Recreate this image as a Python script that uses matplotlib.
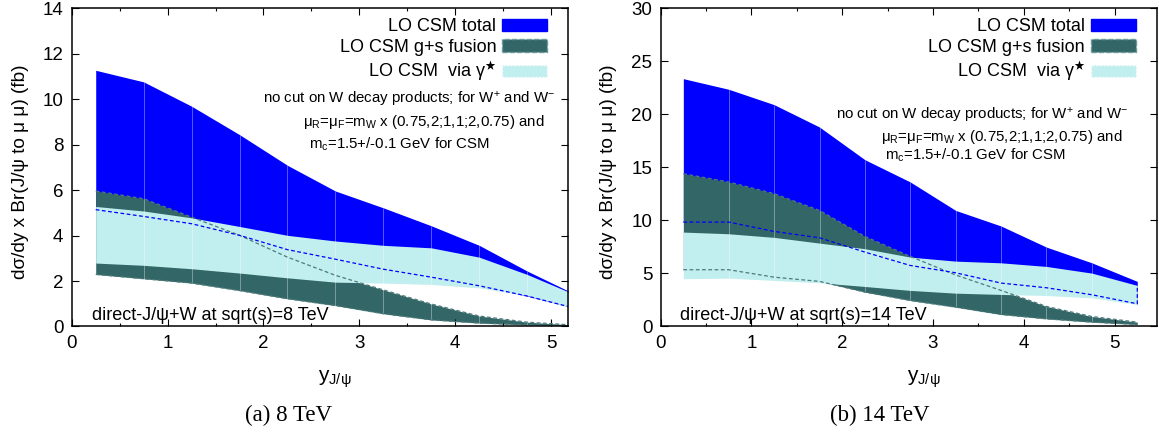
import matplotlib
matplotlib.use('Agg')
import matplotlib.pyplot as plt
from matplotlib.patches import Patch
import numpy as np

plt.rcParams['font.family'] = ['Liberation Sans', 'DejaVu Sans']
plt.rcParams['mathtext.fontset'] = 'custom'
plt.rcParams['mathtext.rm'] = 'Liberation Sans'
plt.rcParams['mathtext.it'] = 'Liberation Sans:italic'
plt.rcParams['mathtext.sf'] = 'Liberation Sans'
plt.rcParams['mathtext.fallback'] = 'stixsans'

# rapidity bins (bin centres)
y_bins = [0.25, 0.75, 1.25, 1.75, 2.25, 2.75, 3.25, 3.75, 4.25, 4.75, 5.25]

# 8 TeV: bands (lower / upper)
tot_lo_8 = [5.14, 4.84, 4.52, 4.01, 3.38, 2.96, 2.52, 2.17, 1.79, 1.34, 0.80]
tot_hi_8 = [11.27, 10.76, 9.69, 8.44, 7.09, 5.96, 5.22, 4.43, 3.57, 2.44, 1.42]
gs_lo_8 = [2.29, 2.10, 1.91, 1.58, 1.22, 0.92, 0.56, 0.29, 0.15, 0.07, 0.03]
gs_hi_8 = [5.96, 5.62, 4.81, 4.01, 3.05, 2.25, 1.61, 0.99, 0.46, 0.19, 0.06]
ga_lo_8 = [2.79, 2.69, 2.54, 2.35, 2.14, 1.95, 1.91, 1.85, 1.70, 1.36, 0.78]
ga_hi_8 = [5.28, 5.08, 4.78, 4.40, 4.01, 3.76, 3.57, 3.46, 3.05, 2.29, 1.40]

# 14 TeV
tot_lo_14 = [9.84, 9.84, 8.96, 8.36, 7.01, 5.75, 5.06, 4.09, 3.65, 2.99, 2.14]
tot_hi_14 = [23.36, 22.36, 20.91, 18.80, 15.72, 13.62, 10.94, 9.47, 7.48, 6.00, 4.25]
gs_lo_14 = [5.35, 5.35, 4.65, 4.25, 3.24, 2.45, 1.82, 1.13, 0.72, 0.41, 0.19]
gs_hi_14 = [14.40, 13.62, 12.52, 10.94, 8.49, 6.60, 4.85, 3.40, 1.89, 0.94, 0.41]
ga_lo_14 = [4.50, 4.56, 4.34, 4.12, 3.77, 3.40, 3.14, 3.02, 2.92, 2.70, 2.08]
ga_hi_14 = [8.90, 8.74, 8.40, 7.86, 7.33, 6.54, 6.16, 6.00, 5.66, 5.03, 3.87]

c_tot = '#0000ff'
c_gs = '#336666'
c_ga = '#c1eeee'

fig = plt.figure(figsize=(11.59, 4.33), dpi=100)
ax1 = fig.add_axes([0.0619, 0.246, 0.4285, 0.735])
ax2 = fig.add_axes([0.5700, 0.246, 0.4285, 0.735])

dash = (0, (3, 2))


def panel(ax, tlo, thi, glo, ghi, alo, ahi, xmax, ymax, ystep, lab, ann_pos):
    x = np.array(y_bins)
    tlo, thi = np.array(tlo), np.array(thi)
    glo, ghi = np.array(glo), np.array(ghi)
    alo, ahi = np.array(alo), np.array(ahi)

    ax.fill_between(x, tlo, thi, color=c_tot, lw=0, zorder=1)
    ax.fill_between(x, glo, ghi, color=c_gs, lw=0, zorder=1.1)
    ax.fill_between(x, alo, ahi, color=c_ga, lw=0, zorder=1.2)

    # light seams at the bin edges (gnuplot look)
    lows = np.minimum(np.minimum(tlo, glo), alo)
    highs = np.maximum(np.maximum(thi, ghi), ahi)
    ax.vlines(x[1:-1], lows[1:-1], highs[1:-1], color='white', alpha=0.35, lw=0.7, zorder=1.5)

    # dashed band borders drawn on top
    ax.plot(x, glo, color='#4d7a7a', lw=0.9, ls=dash, zorder=2)
    ax.plot(x, ghi, color='#4d7a7a', lw=0.9, ls=dash, zorder=2)
    ax.plot(np.append(x, x[-1]), np.append(tlo, ahi[-1]), color=c_tot, lw=0.9, ls=dash, zorder=2.1)

    ax.set_xlim(0, xmax)
    ax.set_ylim(0, ymax)
    ax.set_xticks(np.arange(0, 6, 1))
    ax.set_xticks(np.arange(0.5, xmax, 1), minor=True)
    ax.set_yticks(np.arange(0, ymax + 0.1, ystep))
    ax.tick_params(which='both', direction='in', top=True, right=True, labelsize=13.5, width=0.8)
    ax.tick_params(which='major', length=5, pad=6)
    ax.tick_params(which='minor', length=2.5)
    for s in ax.spines.values():
        s.set_linewidth(1.1)

    handles = [Patch(facecolor=c_tot, edgecolor=c_tot, label='LO CSM total'),
               Patch(facecolor=c_gs, edgecolor='#6a9a9a', ls='--', label='LO CSM g+s fusion'),
               Patch(facecolor=c_ga, edgecolor='white', ls=':', label=r'LO CSM  via γ$^{\bigstar}$')]
    ax.legend(handles=handles, loc='upper right', bbox_to_anchor=(0.9565, 0.968),
              frameon=False, markerfirst=False, borderpad=0, borderaxespad=0,
              handlelength=2.5, handleheight=0.7, handletextpad=0.3,
              labelspacing=0.2, fontsize=13)

    (x1, y1), (x2, y2), (x3, y3) = ann_pos
    ax.text(x1, y1, 'no cut on W decay products; for W$^{+}$ and W$^{-}$',
            transform=ax.transAxes, ha='right', va='center', fontsize=10.8)
    ax.text(x2, y2, r'μ$_{\mathrm{R}}$=μ$_{\mathrm{F}}$=m$_{\mathrm{W}}$ x (0.75,2;1,1;2,0.75) and',
            transform=ax.transAxes, ha='left', va='center', fontsize=10.8)
    ax.text(x3, y3, r'm$_{\mathrm{c}}$=1.5+/-0.1 GeV for CSM',
            transform=ax.transAxes, ha='left', va='center', fontsize=10.8)

    ax.text(0.04, 0.036, lab, transform=ax.transAxes, ha='left', va='center', fontsize=13)

    ax.text(-0.104, 0.4855, 'dσ/dy x Br(J/ψ to μ μ) (fb)', transform=ax.transAxes,
            rotation=90, ha='center', va='center', fontsize=13.7)
    ax.text(0.529, -0.1735, r'y$_{\mathrm{J/ψ}}$', transform=ax.transAxes,
            ha='center', va='baseline', fontsize=15)


panel(ax1, tot_lo_8, tot_hi_8, gs_lo_8, gs_hi_8, ga_lo_8, ga_hi_8, 5.18, 14, 2,
      'direct-J/ψ+W at sqrt(s)=8 TeV',
      [(0.973, 0.712), (0.465, 0.644), (0.477, 0.574)])
panel(ax2, tot_lo_14, tot_hi_14, gs_lo_14, gs_hi_14, ga_lo_14, ga_hi_14, 5.47, 30, 5,
      'direct-J/ψ+W at sqrt(s)=14 TeV',
      [(0.942, 0.662), (0.443, 0.596), (0.451, 0.539)])

fig.text(0.2485, 0.0416, '(a) 8 TeV', family='Liberation Serif', fontsize=16.5, ha='center', va='center')
fig.text(0.759, 0.0416, '(b) 14 TeV', family='Liberation Serif', fontsize=16.5, ha='center', va='center')

fig.savefig('out.png', dpi=100)
